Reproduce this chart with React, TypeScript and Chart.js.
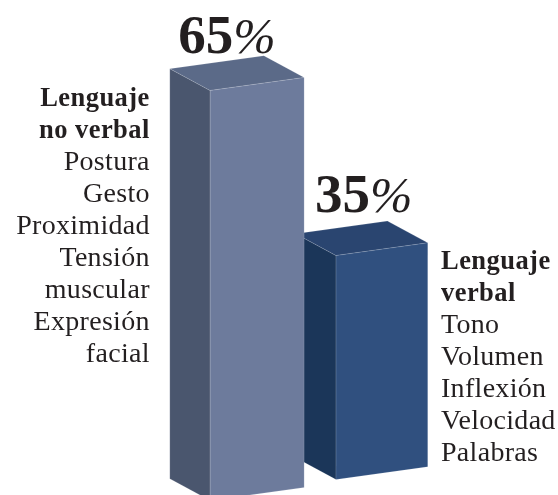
import React, { useEffect, useRef } from "react";
import { Chart, registerables } from "chart.js";

Chart.register(...registerables);

const categories = ["Lenguaje no verbal", "Lenguaje verbal"];
const shares = [65, 35];
const frontColors = ["#6d7b9c", "#30507f"];
const sideColors = ["#4a566e", "#1b3659"];
const topColors = ["#5b6a88", "#2a4570"];
const nonVerbalBold = ["Lenguaje", "no verbal"];
const nonVerbalItems = ["Postura", "Gesto", "Proximidad", "Tensión", "muscular", "Expresión", "facial"];
const verbalBold = ["Lenguaje", "verbal"];
const verbalItems = ["Tono", "Volumen", "Inflexión", "Velocidad", "Palabras"];

const SERIF = '"Liberation Serif", serif';
const INK = "#231f20";
const widthScale = [1.011, 0.986];
const depthX = -40.3;
const depthY = -21.8;
const faceSlope = -0.1383;
const groundSlope = 0.168;
const labelOffsetX = [-79, -67];
const labelOffsetY = [-37.5, -44];

const poly = (ctx: CanvasRenderingContext2D, pts: number[][], fill: string) => {
  ctx.beginPath();
  pts.forEach(([x, y], i) => (i ? ctx.lineTo(x, y) : ctx.moveTo(x, y)));
  ctx.closePath();
  ctx.fillStyle = fill;
  ctx.fill();
  ctx.strokeStyle = "rgba(255,255,255,0.22)";
  ctx.lineWidth = 0.6;
  ctx.stroke();
};

const textBlock = (
  ctx: CanvasRenderingContext2D,
  bold: string[],
  items: string[],
  x: number,
  y: number,
  align: CanvasTextAlign
) => {
  ctx.textAlign = align;
  ctx.textBaseline = "alphabetic";
  ctx.fillStyle = INK;
  [...bold, ...items].forEach((line, i) => {
    const isBold = i < bold.length;
    ctx.font = isBold ? `bold 26.5px ${SERIF}` : `28px ${SERIF}`;
    (ctx as any).letterSpacing = isBold ? "0.45px" : "0.3px";
    ctx.fillText(line, x, y + i * 32.05);
  });
  (ctx as any).letterSpacing = "0px";
};

const bars3d = {
  id: "bars3d",
  beforeDatasetsDraw(chart: any) {
    const { ctx, scales } = chart;
    const els = chart.getDatasetMeta(0).data;
    ctx.save();
    for (let i = els.length - 1; i >= 0; i--) {
      const el = els[i];
      const w = el.width * widthScale[i];
      const rise = groundSlope * (el.x - els[0].x);
      const x0 = el.x - w / 2;
      const x1 = el.x + w / 2;
      const top = el.y - rise;
      const bottom = scales.y.bottom - rise;
      const dy = faceSlope * w;
      poly(ctx, [[x0 + depthX, top + depthY], [x0, top], [x0, bottom], [x0 + depthX, bottom + depthY]], sideColors[i]);
      poly(ctx, [[x0 + depthX, top + depthY], [x1 + depthX, top + dy + depthY], [x1, top + dy], [x0, top]], topColors[i]);
      poly(ctx, [[x0, top], [x1, top + dy], [x1, bottom + dy], [x0, bottom]], el.options.backgroundColor);
    }
    els.forEach((el: any, i: number) => {
      const rise = groundSlope * (el.x - els[0].x);
      const x = el.x + labelOffsetX[i];
      const y = el.y - rise + labelOffsetY[i];
      ctx.textAlign = "left";
      ctx.textBaseline = "alphabetic";
      ctx.fillStyle = INK;
      ctx.font = `bold 55px ${SERIF}`;
      const digits = String(shares[i]);
      ctx.fillText(digits, x, y);
      const dw = ctx.measureText(digits).width;
      ctx.font = `italic 51px ${SERIF}`;
      ctx.fillText("%", x + dw, y);
    });
    textBlock(ctx, nonVerbalBold, nonVerbalItems, 149.8, 106, "right");
    textBlock(ctx, verbalBold, verbalItems, 441, 269, "left");
    ctx.restore();
    return false;
  },
};

export default function App() {
  const ref = useRef<HTMLCanvasElement>(null);
  useEffect(() => {
    document.body.style.margin = "0";
    const chart = new Chart(ref.current!, {
      type: "bar",
      data: {
        labels: categories,
        datasets: [{ data: shares, backgroundColor: frontColors, barThickness: 93 }],
      },
      options: {
        animation: false,
        responsive: false,
        layout: { padding: { left: 194.75, right: 113.75, top: 0, bottom: 19.5 } },
        plugins: { legend: { display: false }, tooltip: { enabled: false } },
        scales: {
          x: { display: false },
          y: { display: false, min: -1.13, max: 79.6 },
        },
      },
      plugins: [bars3d],
    } as any);
    return () => chart.destroy();
  }, []);
  return (
    <div style={{ position: "absolute", left: 0, top: 0, width: 558, height: 495, overflow: "hidden", background: "#fff" }}>
      <canvas ref={ref} width={558} height={520} style={{ display: "block" }} />
    </div>
  );
}
